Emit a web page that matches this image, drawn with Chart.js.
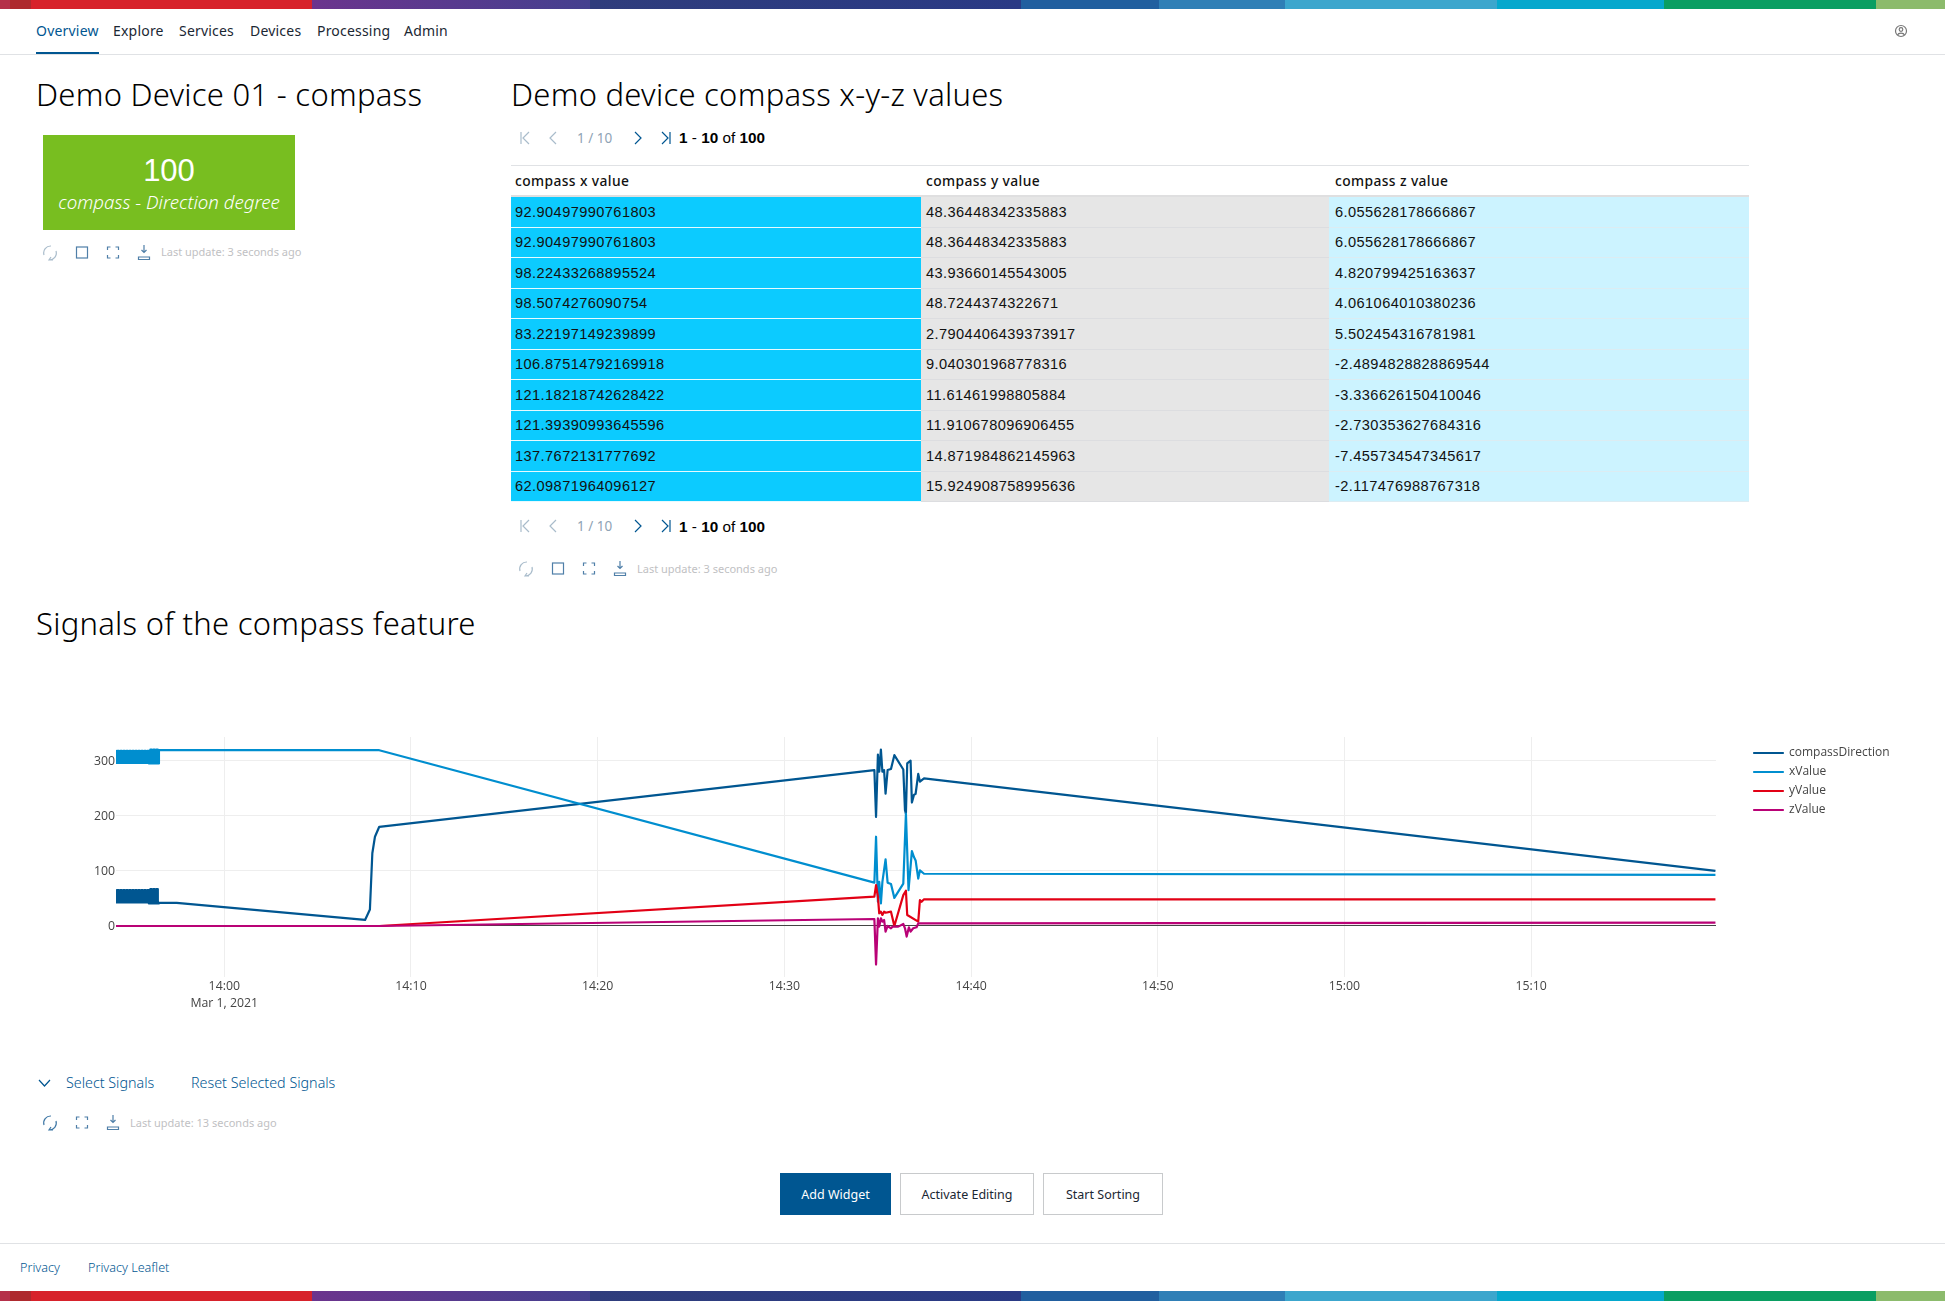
<!DOCTYPE html>
<html>
<head>
<meta charset="utf-8">
<title>Demo Device 01 - compass</title>
<script src="https://cdn.jsdelivr.net/npm/chart.js@4"></script>
<style>
  html, body { margin: 0; padding: 0; background: #fff; }
  body { width: 1945px; height: 1301px; position: relative; overflow: hidden; font-family: "Noto Sans", sans-serif; color: #1b2733; }
  .abs { position: absolute; white-space: nowrap; line-height: 1; }
  .bar { position: absolute; left: 0; width: 1945px; background: linear-gradient(90deg, #b5304a 0, #b5304a 10px, #ae2a2e 10px, #ae2a2e 31px, #d7222b 31px, #d7222b 312px, #6b348d 312px, #45408f 590px, #2f3d7c 590px, #2a3a85 1021px, #215f9f 1021px, #215f9f 1159px, #2f7fb6 1159px, #2f7fb6 1285px, #3ca6cd 1285px, #3ca6cd 1497px, #05a8cd 1497px, #05a8cd 1664px, #0a9e62 1664px, #0a9e62 1876px, #8cbb6c 1876px); }
  .nav { font-size: 14px; top: 24px; letter-spacing: .2px; }
  .title { font-size: 31px; font-weight: 300; color: #000; letter-spacing: .26px; }
  .stamp { font-size: 11px; color: #bfc1c3; }
  .link { font-size: 14.3px; color: #005691; font-weight: 300; }
  .pager { font-size: 13.5px; color: #8fa3b5; }
  .range { font-size: 15.3px; font-family: "Liberation Sans", sans-serif; color: #000; }
  .btn { position: absolute; top: 1173px; height: 42px; box-sizing: border-box; font-size: 12.5px; display: flex; align-items: center; justify-content: center; border: 1px solid #c8cacc; color: #1b2733; }
  table { position: absolute; left: 511px; top: 165px; width: 1238px; border-collapse: collapse; table-layout: fixed; font-family: "Liberation Sans", sans-serif; font-size: 14.6px; color: #111; }
  th { height: 29px; padding: 0 0 0 4px; text-align: left; font: 500 13.8px "Noto Sans", sans-serif; letter-spacing: .4px; border-top: 1px solid #e0e2e5; border-bottom: 2px solid #dfdfe0; }
  td { height: 29.5px; padding: 0 0 0 4px; border-bottom: 1px solid; letter-spacing: .42px; }
  th:nth-child(2), td.cy { padding-left: 5px; }
  th:nth-child(3), td.cz { padding-left: 6px; }
  td.cx { background: #0ccbff; border-color: #e6faff; }
  td.cy { background: #e6e6e6; border-color: #dcdde0; }
  td.cz { background: #ccf3ff; border-color: #dcecf2; }
  #chartBox { position: absolute; left: 0; top: 700px; width: 1945px; height: 330px; }
  svg { position: absolute; fill: none; stroke-width: 1.2; }
</style>
</head>
<body>
<div class="bar" style="top:0;height:9px"></div>

<div class="abs nav" style="left:36px;color:#005691">Overview</div>
<div class="abs nav" style="left:113px">Explore</div>
<div class="abs nav" style="left:179px">Services</div>
<div class="abs nav" style="left:250px">Devices</div>
<div class="abs nav" style="left:317px">Processing</div>
<div class="abs nav" style="left:404px">Admin</div>
<div style="position:absolute;left:0;top:54px;width:1945px;height:1px;background:#e0e2e5"></div>
<div style="position:absolute;left:36px;top:52px;width:63px;height:2px;background:#005691"></div>
<svg style="left:1894px;top:24px" width="14" height="14" stroke="#777"><circle cx="7" cy="7" r="5.500"/><circle cx="7" cy="5.500" r="1.800"/><path d="M3.500 11c1-2.500 6-2.500 7 0"/></svg>

<div class="abs title" style="left:36px;top:79px">Demo Device 01 - compass</div>
<div style="position:absolute;left:43px;top:135px;width:252px;height:95px;background:#78be20"></div>
<div class="abs" style="left:43px;width:252px;top:155px;text-align:center;color:#fff;font-size:31px;font-family:'Liberation Sans',sans-serif">100</div>
<div class="abs" style="left:43px;width:252px;top:193px;text-align:center;color:#fff;font-size:18.7px;font-style:italic;font-weight:300">compass - Direction degree</div>
<div class="abs stamp" style="left:161px;top:246px">Last update: 3 seconds ago</div>

<div class="abs title" style="left:511px;top:79px">Demo device compass x-y-z values</div>
<div class="abs pager" style="left:577px;top:132px">1 / 10</div>
<div class="abs range" style="left:679px;top:130px"><b>1</b> - <b>10</b> of <b>100</b></div>
<table id="valueTable"></table>
<div class="abs pager" style="left:577px;top:520px">1 / 10</div>
<div class="abs range" style="left:679px;top:518.500px"><b>1</b> - <b>10</b> of <b>100</b></div>
<div class="abs stamp" style="left:637px;top:562.500px">Last update: 3 seconds ago</div>

<div class="abs title" style="left:36px;top:608px">Signals of the compass feature</div>
<div id="chartBox"><canvas id="signalChart" width="1945" height="330"></canvas></div>

<svg style="left:38px;top:1078px" width="13" height="10" stroke="#005691"><path d="M1 2l5.500 6 5.500-6"/></svg>
<div class="abs link" style="left:66px;top:1075.500px">Select Signals</div>
<div class="abs link" style="left:191px;top:1075.500px">Reset Selected Signals</div>
<div class="abs stamp" style="left:130px;top:1116.500px">Last update: 13 seconds ago</div>

<div class="btn" style="left:780px;width:111px;background:#005691;border-color:#005691;color:#fff">Add Widget</div>
<div class="btn" style="left:900px;width:134px">Activate Editing</div>
<div class="btn" style="left:1043px;width:120px">Start Sorting</div>

<div style="position:absolute;left:0;top:1243px;width:1945px;height:1px;background:#e0e2e5"></div>
<div class="abs link" style="left:20px;top:1262px;font-size:12.6px">Privacy</div>
<div class="abs link" style="left:88px;top:1262px;font-size:12.6px">Privacy Leaflet</div>
<div class="bar" style="top:1291px;height:10px"></div>

<script>
// table rows
const tableHeaders = ['compass x value', 'compass y value', 'compass z value'];
const compassX = ['92.90497990761803', '92.90497990761803', '98.22433268895524', '98.5074276090754', '83.22197149239899', '106.87514792169918', '121.18218742628422', '121.39390993645596', '137.7672131777692', '62.09871964096127'];
const compassY = ['48.36448342335883', '48.36448342335883', '43.93660145543005', '48.7244374322671', '2.7904406439373917', '9.040301968778316', '11.61461998805884', '11.910678096906455', '14.871984862145963', '15.924908758995636'];
const compassZ = ['6.055628178666867', '6.055628178666867', '4.820799425163637', '4.061064010380236', '5.502454316781981', '-2.4894828828869544', '-3.336626150410046', '-2.730353627684316', '-7.455734547345617', '-2.117476988767318'];

// chart series, times are minutes after 14:00
const seriesNames = ['compassDirection', 'xValue', 'yValue', 'zValue'];
const seriesColors = ['#005691', '#008ecf', '#e20015', '#b90276'];

// the first 2.3 minutes jump up and down so fast that they read as a solid band
const burstTimes = [-5.80, -5.80, -5.72, -5.72, -5.64, -5.64, -5.56, -5.56, -5.48, -5.48, -5.40, -5.40, -5.32, -5.32, -5.24, -5.24, -5.16, -5.16, -5.08, -5.08, -5.00, -5.00, -4.92, -4.92, -4.84, -4.84, -4.76, -4.76, -4.68, -4.68, -4.60, -4.60, -4.52, -4.52, -4.44, -4.44, -4.36, -4.36, -4.28, -4.28, -4.20, -4.20, -4.12, -4.12, -4.04, -4.04, -3.96, -3.96, -3.88, -3.88, -3.80, -3.80, -3.72, -3.72, -3.64, -3.64, -3.56, -3.56, -3.50, -3.50];
const directionBurst = [65, 43, 43, 65, 65, 43, 43, 65, 65, 43, 43, 65, 65, 43, 43, 65, 65, 43, 43, 65, 65, 43, 43, 65, 65, 43, 43, 65, 65, 43, 43, 65, 65, 43, 43, 65, 65, 43, 43, 65, 65, 43, 43, 65, 65, 41, 41, 67, 67, 41, 41, 67, 67, 41, 41, 67, 67, 41, 41, 42];
const xBurst = [318, 296, 296, 318, 318, 296, 296, 318, 318, 296, 296, 318, 318, 296, 296, 318, 318, 296, 296, 318, 318, 296, 296, 318, 318, 296, 296, 318, 318, 296, 296, 318, 318, 296, 296, 318, 318, 296, 296, 318, 318, 296, 296, 318, 318, 295, 295, 320, 320, 295, 295, 320, 320, 295, 295, 320, 320, 295, 295, 319];

const directionTimes = [-2.55, 7.54, 7.80, 7.93, 8.07, 8.30, 34.82, 34.91, 35.01, 35.08, 35.17, 35.25, 35.34, 35.42, 35.53, 35.71, 35.89, 36.37, 36.46, 36.51, 36.58, 36.76, 36.83, 36.94, 37.03, 37.17, 37.26, 37.48, 79.87];
const directionValues = [42, 11, 30, 132, 162, 180, 283, 198, 311, 280, 320, 280, 283, 240, 283, 285, 310, 284, 210, 204, 295, 300, 224, 238, 240, 276, 262, 268, 100];

const xTimes = [8.30, 34.82, 34.91, 35.01, 35.08, 35.17, 35.25, 35.42, 35.53, 35.71, 35.89, 36.37, 36.51, 36.65, 36.83, 36.94, 37.03, 37.17, 37.26, 37.48, 79.87];
const xValues = [319, 78.6, 162, 44, 80, 41, 80, 121, 78.6, 76, 51, 77, 204, 65, 136, 125, 119, 86, 101, 94.8, 92.9];

const yTimes = [-5.80, 8.30, 34.82, 34.91, 35.01, 35.08, 35.17, 35.25, 35.34, 35.42, 35.71, 35.89, 36.37, 36.51, 36.58, 37.17, 37.26, 37.35, 37.48, 79.87];
const yValues = [0, 0, 53.2, 74.3, 53.2, 23, 26, 20, 26, 24, 26, 0, 56, 64, 20, 7.9, 47, 44, 48.4, 48.36];

const zTimes = [-5.80, 8.30, 34.82, 34.91, 35.01, 35.08, 35.17, 35.25, 35.34, 35.42, 35.53, 35.71, 35.80, 36.10, 36.37, 36.46, 36.55, 36.67, 36.76, 36.90, 37.08, 37.17, 79.87];
const zValues = [0, 0, 12.7, -70, 13.9, -1.2, 13.9, 7.9, 10.9, -10.3, 0, -4.2, -1.2, -1.2, 3.6, -4.2, -19.3, -2.4, -10.3, -4.2, -2.4, 4.8, 6.06];

const yTickValues = [0, 100, 200, 300];

// table
const tableEl = document.getElementById('valueTable');
tableEl.innerHTML = '<colgroup><col style="width:410px"><col style="width:408px"><col style="width:420px"></colgroup>'
    + '<tr>' + tableHeaders.map(h => `<th>${h}</th>`).join('') + '</tr>'
    + compassX.map((v, i) => `<tr><td class="cx">${v}</td><td class="cy">${compassY[i]}</td><td class="cz">${compassZ[i]}</td></tr>`).join('');

// toolbar icons
function addIcon(kind, left, top, color) {
    const shapes = {
        refresh: '<path d="M2 11A7 7 0 0 1 9 2M7 16A7 7 0 0 0 14 7M11 16l-4 0 2-3"/>',
        square: '<rect x="2.500" y="3" width="11" height="11"/>',
        full: '<path d="M2.500 6V3h3M10.500 3h3v3M13.500 11v3h-3M5.500 14h-3v-3"/>',
        download: '<path d="M8 1v7M5.500 6L8 8.500 10.500 6M2.500 13h11v2.500h-11z"/>',
        first: '<path d="M3 2v12M11 2L5 8l6 6"/>',
        prev: '<path d="M10 2L4 8l6 6"/>',
        next: '<path d="M6 2l6 6-6 6"/>',
        last: '<path d="M13 2v12M5 2l6 6-6 6"/>'
    };
    const icon = document.createElementNS('http://www.w3.org/2000/svg', 'svg');
    icon.setAttribute('width', 16);
    icon.setAttribute('height', 18);
    icon.setAttribute('stroke', color);
    icon.style.left = left + 'px';
    icon.style.top = top + 'px';
    icon.innerHTML = shapes[kind];
    document.body.appendChild(icon);
}
const dimBlue = '#a9bccb';
const midBlue = '#4f7fa8';
[['refresh', 42, 244, dimBlue], ['square', 74, 244, midBlue], ['full', 105, 244, midBlue], ['download', 136, 244, midBlue],
 ['first', 518, 130, dimBlue], ['prev', 546, 130, dimBlue], ['next', 629, 130, '#005691'], ['last', 657, 130, '#005691'],
 ['first', 518, 518, dimBlue], ['prev', 546, 518, dimBlue], ['next', 629, 518, '#005691'], ['last', 657, 518, '#005691'],
 ['refresh', 518, 560, dimBlue], ['square', 550, 560, midBlue], ['full', 581, 560, midBlue], ['download', 612, 560, midBlue],
 ['refresh', 42, 1114, '#3f78a6'], ['full', 74, 1114, midBlue], ['download', 105, 1114, midBlue]
].forEach(a => addIcon(a[0], a[1], a[2], a[3]));

function toPoints(times, values) {
    return times.map((t, i) => ({ x: t, y: values[i] }));
}

function formatTime(minutes) {
    const total = 14 * 60 + minutes;
    return Math.floor(total / 60) + ':' + String(total % 60).padStart(2, '0');
}

const seriesPoints = [
    toPoints(burstTimes, directionBurst).concat(toPoints(directionTimes, directionValues)),
    toPoints(burstTimes, xBurst).concat(toPoints(xTimes, xValues)),
    toPoints(yTimes, yValues),
    toPoints(zTimes, zValues)
];

// moves the legend out of the plot, next to its right edge
const legendPlacement = {
    id: 'legendPlacement',
    afterLayout(chart) {
        const lg = chart.legend;
        lg.left = 1747;
        lg.right = 1945;
        lg.top = 40;
        lg.bottom = 200;
    }
};

new Chart(document.getElementById('signalChart'), {
    type: 'line',
    plugins: [legendPlacement],
    data: {
        datasets: seriesNames.map((name, i) => ({
            label: name,
            data: seriesPoints[i],
            borderColor: seriesColors[i],
            backgroundColor: seriesColors[i],
            borderWidth: 2.2,
            borderJoinStyle: 'round',
            pointRadius: 0,
            tension: 0,
            order: seriesNames.length - i
        }))
    },
    options: {
        responsive: false,
        animation: false,
        devicePixelRatio: 1,
        layout: { padding: { left: 0, right: 229, top: 37, bottom: 0 } },
        plugins: {
            tooltip: { enabled: false },
            legend: {
                position: 'chartArea',
                align: 'start',
                labels: {
                    boxWidth: 29,
                    boxHeight: 0,
                    padding: 7,
                    color: '#444',
                    font: { family: 'Open Sans', size: 12 },
                    sort: (a, b) => a.datasetIndex - b.datasetIndex
                }
            }
        },
        scales: {
            x: {
                type: 'linear',
                min: -5.8,
                max: 79.9,
                afterFit(scale) { scale.height = 53; },
                border: { display: false },
                grid: { color: '#eeeeee', drawTicks: false },
                ticks: {
                    stepSize: 10,
                    includeBounds: false,
                    autoSkip: false,
                    maxRotation: 0,
                    padding: 1,
                    color: '#444',
                    font: { family: 'Open Sans', size: 12.3, lineHeight: 1.4 },
                    callback: v => v === 0 ? [formatTime(v), 'Mar 1, 2021'] : formatTime(v)
                }
            },
            y: {
                min: -92.6,
                max: 343,
                afterFit(scale) { scale.width = 116; },
                afterBuildTicks(scale) { scale.ticks = yTickValues.map(v => ({ value: v })); },
                border: { display: false },
                grid: { color: ctx => ctx.tick && ctx.tick.value === 0 ? '#444444' : '#eeeeee', drawTicks: false },
                ticks: { padding: 1, labelOffset: 1, color: '#444', font: { family: 'Open Sans', size: 12.3 } }
            }
        }
    }
});
</script>
</body>
</html>
